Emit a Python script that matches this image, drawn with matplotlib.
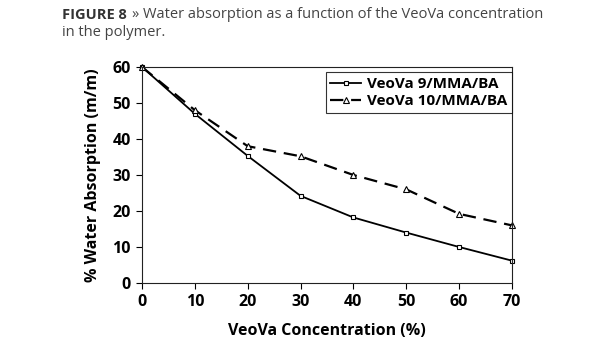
import matplotlib.pyplot as plt

plt.rcParams['font.family'] = ['Open Sans', 'DejaVu Sans']

# data
conc = [0, 10, 20, 30, 40, 50, 60, 70]
veova9 = [60, 47, 35.3, 24.2, 18.2, 14, 10, 6.2]
veova10 = [60, 48, 38, 35.2, 30, 26, 19.2, 16]

fig = plt.figure(figsize=(6.15, 3.5), dpi=100)
ax = fig.add_axes([142/615, 1 - 283/350, 370/615, 216/350])

ax.plot(conc, veova9, color='black', lw=1.3, marker='s', ms=3.5,
        mfc='white', mec='black', mew=0.8, label='VeoVa 9/MMA/BA', clip_on=False)
ax.plot(conc, veova10, color='black', lw=1.6, ls=(0, (6, 3.5)), marker='^', ms=4,
        mfc='white', mec='black', mew=0.8, label='VeoVa 10/MMA/BA', clip_on=False)

ax.set_xlim(0, 70)
ax.set_ylim(0, 60)
ax.set_xticks(conc)
ax.set_yticks(range(0, 61, 10))
ax.tick_params(direction='out', length=4, width=0.8, labelsize=11.5, pad=4)
for t in ax.get_xticklabels() + ax.get_yticklabels():
    t.set_fontweight('bold')
for s in ax.spines.values():
    s.set_linewidth(0.8)
    s.set_color('#222222')

ax.set_xlabel('VeoVa Concentration (%)', fontsize=11.5, fontweight='bold', labelpad=9)
ax.set_ylabel('% Water Absorption (m/m)', fontsize=11.5, fontweight='bold', labelpad=8)

leg = ax.legend(loc='upper right', bbox_to_anchor=(1.0, 0.975), fontsize=11,
                frameon=True, fancybox=False, edgecolor='black', handlelength=2.0,
                handletextpad=0.4, borderpad=0.3, labelspacing=0.2, borderaxespad=0)
leg.get_frame().set_linewidth(0.8)
for t in leg.get_texts():
    t.set_fontweight('bold')

fig.text(62/615, 1 - 15/350, 'FIGURE 8', fontsize=10.5, fontweight='bold',
         color='#333333', va='center')
fig.text(132/615, 1 - 15/350, '» Water absorption as a function of the VeoVa concentration',
         fontsize=10.5, color='#444444', va='center')
fig.text(62/615, 1 - 32/350, 'in the polymer.', fontsize=10.5, color='#444444', va='center')

fig.savefig('out.png', dpi=100)
